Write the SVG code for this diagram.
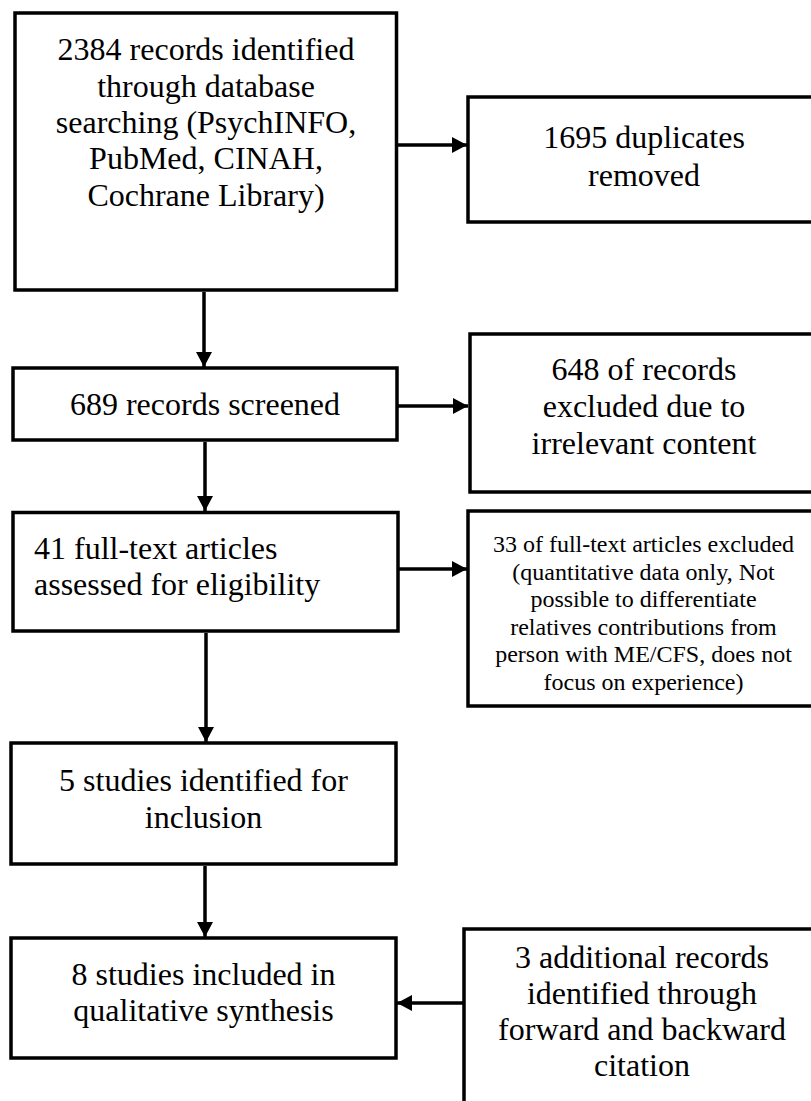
<svg xmlns="http://www.w3.org/2000/svg" width="811" height="1101" viewBox="0 0 811 1101">
<defs>
<style>
.box{fill:#fff;stroke:#000;stroke-width:3.5}
.t{font-family:"Liberation Serif","Times New Roman",serif;font-size:32px;fill:#000;text-anchor:middle}
.s{font-size:24px}
.l{text-anchor:start}
.c{stroke:#000;stroke-width:3.5;fill:none}
</style>
<marker id="ah" markerWidth="16" markerHeight="16" refX="15" refY="8" orient="auto" markerUnits="userSpaceOnUse">
<path d="M0,0 L15,8 L0,16 Z" fill="#000"/>
</marker>
</defs>
<rect width="811" height="1101" fill="#fff"/>
<g id="connectors">
<line class="c" x1="396.5" y1="145" x2="467" y2="145" marker-end="url(#ah)"/>
<line class="c" x1="204" y1="292" x2="204" y2="367" marker-end="url(#ah)"/>
<line class="c" x1="397" y1="406" x2="468" y2="406" marker-end="url(#ah)"/>
<line class="c" x1="205" y1="442" x2="205" y2="511" marker-end="url(#ah)"/>
<line class="c" x1="398" y1="569" x2="467" y2="569" marker-end="url(#ah)"/>
<line class="c" x1="206" y1="633" x2="206" y2="742" marker-end="url(#ah)"/>
<line class="c" x1="205" y1="866" x2="205" y2="937" marker-end="url(#ah)"/>
<line class="c" x1="464" y1="1003" x2="397" y2="1003" marker-end="url(#ah)"/>
</g>
<g id="n1">
<rect class="box" x="15" y="13" width="381.5" height="277"/>
<text class="t"><tspan x="206" y="60">2384 records identified</tspan><tspan x="206" y="97">through database</tspan><tspan x="206" y="133">searching (PsychINFO,</tspan><tspan x="206" y="169">PubMed, CINAH,</tspan><tspan x="206" y="206">Cochrane Library)</tspan></text>
</g>
<g id="n2">
<rect class="box" x="468" y="97" width="352" height="125"/>
<text class="t"><tspan x="644" y="148">1695 duplicates</tspan><tspan x="644" y="186">removed</tspan></text>
</g>
<g id="n3">
<rect class="box" x="13" y="368" width="384" height="72"/>
<text class="t" x="205" y="415">689 records screened</text>
</g>
<g id="n4">
<rect class="box" x="470" y="334" width="350" height="158"/>
<text class="t"><tspan x="644" y="380">648 of records</tspan><tspan x="644" y="417">excluded due to</tspan><tspan x="644" y="454">irrelevant content</tspan></text>
</g>
<g id="n5">
<rect class="box" x="13" y="512.5" width="385" height="118.5"/>
<text class="t l"><tspan x="34" y="559">41 full-text articles</tspan><tspan x="34" y="595">assessed for eligibility</tspan></text>
</g>
<g id="n6">
<rect class="box" x="468" y="511" width="352" height="195"/>
<text class="t s"><tspan x="643.5" y="552">33 of full-text articles excluded</tspan><tspan x="643.5" y="579.5">(quantitative data only, Not</tspan><tspan x="643.5" y="607">possible to differentiate</tspan><tspan x="643.5" y="634.5">relatives contributions from</tspan><tspan x="643.5" y="662">person with ME/CFS, does not</tspan><tspan x="643.5" y="689.5">focus on experience)</tspan></text>
</g>
<g id="n7">
<rect class="box" x="11" y="743" width="385" height="121"/>
<text class="t"><tspan x="203.5" y="791">5 studies identified for</tspan><tspan x="203.5" y="828">inclusion</tspan></text>
</g>
<g id="n8">
<rect class="box" x="11" y="938" width="385" height="120"/>
<text class="t"><tspan x="203.5" y="985">8 studies included in</tspan><tspan x="203.5" y="1021">qualitative synthesis</tspan></text>
</g>
<g id="n9">
<rect class="box" x="464" y="929" width="356" height="190"/>
<text class="t"><tspan x="642" y="968">3 additional records</tspan><tspan x="642" y="1004">identified through</tspan><tspan x="642" y="1040">forward and backward</tspan><tspan x="642" y="1076">citation</tspan></text>
</g>
</svg>
